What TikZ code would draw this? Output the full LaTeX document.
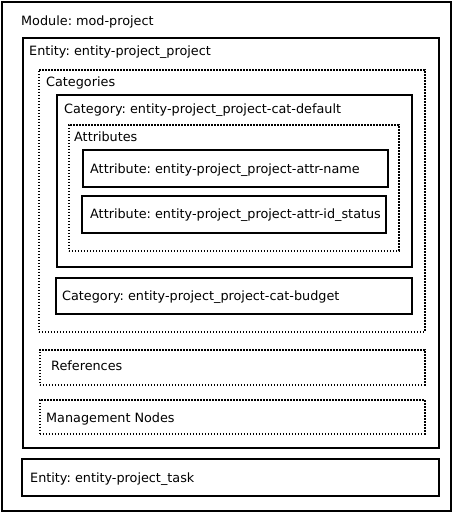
\documentclass[tikz,border=0pt]{standalone}
\usepackage{fontspec}
\setmainfont{DejaVu Sans}
\frenchspacing
\begin{document}
\begin{tikzpicture}[x=1pt,y=-1pt,
  solidbox/.style={draw=black,line width=2pt,rectangle,inner sep=0pt,anchor=north west},
  dotbox/.style={draw=black,line width=1.6pt,dash pattern=on 1.6pt off 1.4pt,rectangle,inner sep=0pt,anchor=north west},
  lbl/.style={anchor=west,inner sep=0pt,font=\fontsize{12.8}{15}\selectfont}]
\useasboundingbox (0,0) rectangle (452,512);
\node[solidbox,minimum width=449pt,minimum height=509pt] (module) at (1,1) {};
\node[lbl] (moduleL) at (21,22) {Module: mod-project};
\node[solidbox,minimum width=416pt,minimum height=410pt] (entP) at (22,37) {};
\node[lbl] (entPL) at (29,52) {Entity: entity-project\_project};
\node[dotbox,minimum width=386pt,minimum height=262pt] (cats) at (38,69) {};
\node[lbl] (catsL) at (46,83) {Categories};
\node[solidbox,minimum width=355pt,minimum height=172pt] (catD) at (56,94) {};
\node[lbl] (catDL) at (64,110) {Category: entity-project\_project-cat-default};
\node[dotbox,minimum width=330pt,minimum height=126pt] (attrs) at (68,124) {};
\node[lbl] (attrsL) at (74,137) {Attributes};
\node[solidbox,minimum width=305pt,minimum height=37pt] (aName) at (82,149) {};
\node[lbl] (aNameL) at (90,170) {Attribute: entity-project\_project-attr-name};
\node[solidbox,minimum width=304pt,minimum height=37pt] (aStat) at (81,195) {};
\node[lbl] (aStatL) at (90,215) {Attribute: entity-project\_project-attr-id\_status};
\node[solidbox,minimum width=356pt,minimum height=36pt] (catB) at (55,277) {};
\node[lbl] (catBL) at (62,297) {Category: entity-project\_project-cat-budget};
\node[dotbox,minimum width=385pt,minimum height=35pt] (refs) at (39,349) {};
\node[lbl] (refsL) at (51,366) {References};
\node[dotbox,minimum width=385pt,minimum height=34pt] (mgmt) at (39,399) {};
\node[lbl] (mgmtL) at (46,419) {Management Nodes};
\node[solidbox,minimum width=417pt,minimum height=37pt] (entT) at (21,458) {};
\node[lbl] (entTL) at (30,479) {Entity: entity-project\_task};
\end{tikzpicture}
\end{document}
